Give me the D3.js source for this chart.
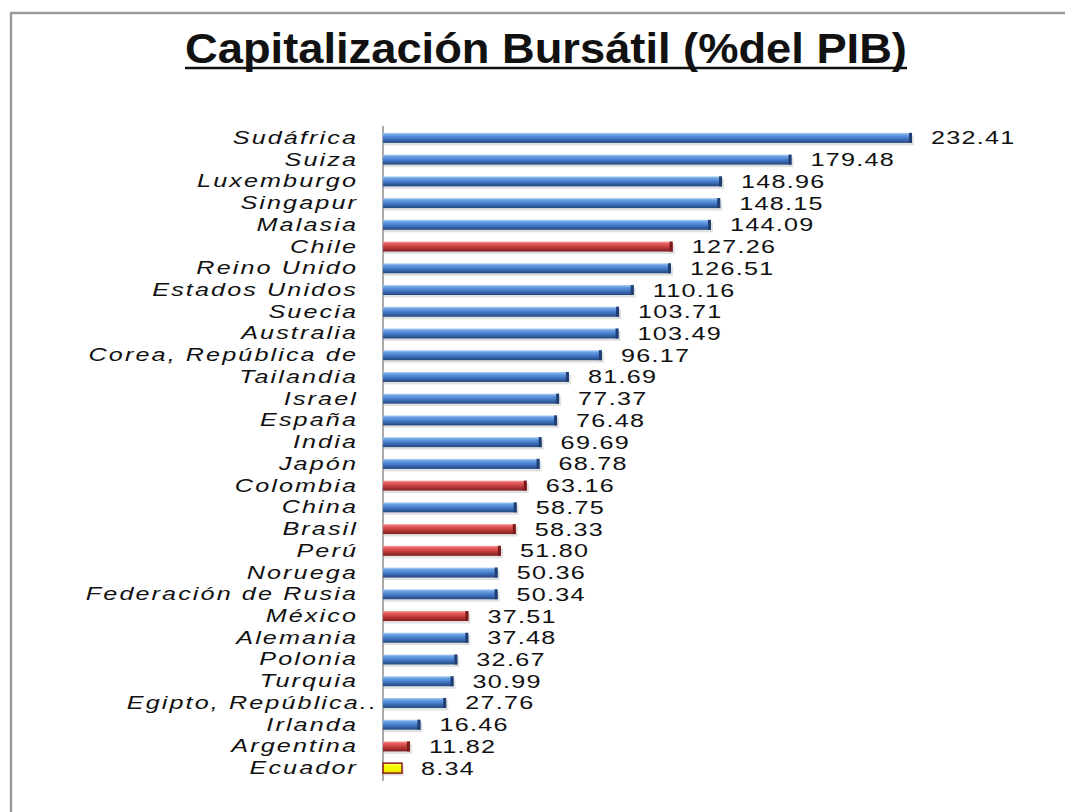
<!DOCTYPE html>
<html>
<head>
<meta charset="utf-8">
<script src="https://cdn.jsdelivr.net/npm/d3@7"></script>
<style>
  body { margin: 0; background: #fff; }
  svg { display: block; }
</style>
</head>
<body>
<svg width="1065" height="812"></svg>
<script>
// ---------------- data ----------------
let countries = ["Sudáfrica", "Suiza", "Luxemburgo", "Singapur", "Malasia", "Chile",
  "Reino Unido", "Estados Unidos", "Suecia", "Australia", "Corea, República de",
  "Tailandia", "Israel", "España", "India", "Japón", "Colombia", "China", "Brasil",
  "Perú", "Noruega", "Federación de Rusia", "México", "Alemania", "Polonia", "Turquia",
  "Egipto, República..", "Irlanda", "Argentina", "Ecuador"];
let values = [232.41, 179.48, 148.96, 148.15, 144.09, 127.26, 126.51, 110.16, 103.71,
  103.49, 96.17, 81.69, 77.37, 76.48, 69.69, 68.78, 63.16, 58.75, 58.33, 51.80, 50.36,
  50.34, 37.51, 37.48, 32.67, 30.99, 27.76, 16.46, 11.82, 8.34];
// which colour group each bar belongs to
let groups = ["otro", "otro", "otro", "otro", "otro", "latam", "otro", "otro", "otro",
  "otro", "otro", "otro", "otro", "otro", "otro", "otro", "latam", "otro", "latam",
  "latam", "otro", "otro", "latam", "otro", "otro", "otro", "otro", "otro", "latam", "ecuador"];

let titleText = "Capitalización Bursátil (%del PIB)";

// ---------------- layout ----------------
let svg = d3.select("svg");
let stretch = 1.4; // text in the picture is wide

let x0 = 383;
let x = d3.scaleLinear().domain([0, 232.41]).range([x0, 912]);
let y = d3.scaleBand().domain(countries).range([127, 779]).paddingInner(0.54).paddingOuter(0.27);

// frame
svg.append("rect")
  .attr("x", 11).attr("y", 13)
  .attr("width", 1100).attr("height", 900)
  .attr("fill", "none")
  .attr("stroke", "#9a9a9a")
  .attr("stroke-width", 2.5);

// gradients
let defs = svg.append("defs");
function makeGrad(id, stops)
{
  let g = defs.append("linearGradient").attr("id", id)
    .attr("x1", 0).attr("y1", 0).attr("x2", 0).attr("y2", 1);
  stops.forEach(s => g.append("stop").attr("offset", s[0]).attr("stop-color", s[1]));
}
makeGrad("gBlue", [["0%", "#b4d2f4"], ["20%", "#6aa0e4"], ["55%", "#4479c8"], ["100%", "#22467c"]]);
makeGrad("gRed", [["0%", "#f6a8a8"], ["20%", "#e66060"], ["55%", "#c63c3c"], ["100%", "#7c1e1e"]]);
makeGrad("gYellow", [["0%", "#ffff80"], ["30%", "#ffff00"], ["100%", "#e8e800"]]);

let fillFor = { otro: "url(#gBlue)", latam: "url(#gRed)", ecuador: "url(#gYellow)" };
let capFor = { otro: "#1f3f72", latam: "#7a1b1b", ecuador: "#8b1a1a" };

// title
let title = svg.append("text")
  .attr("text-anchor", "middle")
  .attr("font-family", "'Liberation Sans Narrow', 'Liberation Sans', sans-serif")
  .attr("font-weight", "bold")
  .attr("font-size", 38)
  .attr("fill", "#111")
  .text(titleText);
let tw = title.node().getComputedTextLength();
let tScale = 722 / tw;
title.attr("transform", `translate(546,63) scale(${tScale},1.1)`);
svg.append("line")
  .attr("x1", 546 - 361).attr("x2", 546 + 361)
  .attr("y1", 68).attr("y2", 68)
  .attr("stroke", "#111").attr("stroke-width", 2.5);

// axis line
svg.append("line")
  .attr("x1", x0).attr("x2", x0)
  .attr("y1", 126).attr("y2", 781)
  .attr("stroke", "#8c8c8c").attr("stroke-width", 1.5);

let rows = svg.selectAll("g.row")
  .data(countries.map((c, i) => ({ name: c, value: values[i], group: groups[i] })))
  .enter()
  .append("g")
  .attr("class", "row");

// shadow
rows.append("rect")
  .attr("x", x0 + 1)
  .attr("y", d => y(d.name) + 2.5)
  .attr("width", d => x(d.value) - x0 + 1)
  .attr("height", y.bandwidth())
  .attr("fill", "#bdbdbd")
  .attr("opacity", 0.45);

// bar
rows.append("rect")
  .attr("x", x0)
  .attr("y", d => y(d.name))
  .attr("width", d => x(d.value) - x0)
  .attr("height", y.bandwidth())
  .attr("fill", d => fillFor[d.group])
  .attr("stroke", d => d.group == "ecuador" ? "#8b1a1a" : "none")
  .attr("stroke-width", 1.5);

// dark end cap
rows.filter(d => d.group != "ecuador").append("rect")
  .attr("x", d => x(d.value) - 3)
  .attr("y", d => y(d.name))
  .attr("width", 3)
  .attr("height", y.bandwidth())
  .attr("fill", d => capFor[d.group]);

// category labels ("Egipto, República.." keeps its dots past the edge, as in the picture)
rows.append("text")
  .attr("transform", d => {
    let right = d.name.endsWith("..") ? 378 : 358;
    return `translate(${right},${y(d.name) + y.bandwidth() / 2 + 6}) scale(${stretch},1)`;
  })
  .attr("text-anchor", "end")
  .attr("font-family", "'Liberation Sans', Arial, sans-serif")
  .attr("font-style", "italic")
  .attr("font-size", 18)
  .attr("letter-spacing", 1.5)
  .attr("fill", "#111")
  .text(d => d.name);

// value labels
rows.append("text")
  .attr("transform", d => `translate(${x(d.value) + 19},${y(d.name) + y.bandwidth() / 2 + 6.5}) scale(${stretch},1)`)
  .attr("font-family", "'Liberation Sans', Arial, sans-serif")
  .attr("font-size", 18)
  .attr("letter-spacing", 0.9)
  .attr("fill", "#111")
  .text(d => d.value.toFixed(2));
</script>
</body>
</html>
